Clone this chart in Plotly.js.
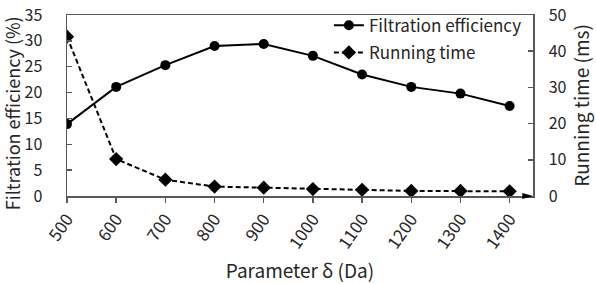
<!DOCTYPE html>
<html>
<head>
<meta charset="utf-8">
<script src="https://cdn.plot.ly/plotly-3.0.1.min.js"></script>
<style>html,body{margin:0;padding:0;background:#fff;}#chart{width:596px;height:284px;}</style>
</head>
<body>
<div id="chart"></div>
<script>
var deltaValues = [500, 600, 700, 800, 900, 1000, 1100, 1200, 1300, 1400];
var filtrationEfficiency = [13.9, 21.1, 25.3, 29.0, 29.4, 27.1, 23.5, 21.1, 19.8, 17.4];
var runningTime = [44.0, 10.2, 4.5, 2.6, 2.3, 1.9, 1.7, 1.4, 1.4, 1.3];
var tickLabels = ['500','600','700','800','900','1000','1100','1200','1300','1400'];
var leftTicks = [0, 5, 10, 15, 20, 25, 30, 35];
var rightTicks = [0, 10, 20, 30, 40, 50];

var FONT = '"Noto Sans CJK SC", "Noto Sans", sans-serif';
var AX = '#595959';
var TXT = '#262626';

var traces = [
  {
    x: deltaValues, y: filtrationEfficiency, name: 'Filtration efficiency',
    type: 'scatter', mode: 'lines+markers', legendgroup: 'a',
    line: {color: '#000', width: 2},
    marker: {symbol: 'circle', size: 10, color: '#000'}
  },
  {
    x: deltaValues, y: runningTime, name: 'Running time', yaxis: 'y2',
    type: 'scatter', mode: 'lines+markers', legendgroup: 'b',
    line: {color: '#000', width: 2, dash: '5px,3px'},
    marker: {symbol: 'diamond', size: 11, color: '#000'}
  }
];

var PLOT_W = 596 - 67 - 63;
var PLOT_H = 284 - 8 - 88;

var layout = {
  width: 596, height: 284,
  margin: {l: 67, r: 63, t: 8, b: 88, pad: 0},
  paper_bgcolor: '#fff', plot_bgcolor: '#fff',
  font: {family: FONT, size: 16, color: TXT},
  showlegend: true,
  legend: {x: 0.562, y: 1.04, xanchor: 'left', yanchor: 'top', bgcolor: 'rgba(0,0,0,0)',
           font: {family: FONT, size: 17, color: TXT}, tracegroupgap: 2, itemwidth: 30},
  xaxis: {
    range: [500, 1447.5], tickvals: deltaValues, ticktext: tickLabels,
    tickangle: -55, ticks: 'outside', ticklen: 5, tickcolor: AX, tickwidth: 1.5,
    tickfont: {family: FONT, size: 17, color: TXT},
    showline: true, linecolor: AX, linewidth: 1.5, mirror: true,
    showgrid: false, zeroline: false,
    title: {text: 'Parameter δ (Da)', font: {family: FONT, size: 19, color: TXT}, standoff: 12}
  },
  yaxis: {
    range: [0, 35], tickvals: leftTicks, ticks: 'inside', ticklen: 5, tickcolor: AX, tickwidth: 1.5,
    tickfont: {family: FONT, size: 16, color: TXT}, ticklabeloverflow: 'allow', ticklabelstandoff: 20,
    showline: true, linecolor: AX, linewidth: 1.5,
    showgrid: false, zeroline: false
  },
  yaxis2: {
    range: [0, 50], tickvals: rightTicks, overlaying: 'y', side: 'right',
    ticks: 'inside', ticklen: 5, tickcolor: AX, tickwidth: 1.5,
    tickfont: {family: FONT, size: 16, color: TXT}, ticklabeloverflow: 'allow', ticklabelstandoff: 11,
    showline: true, linecolor: AX, linewidth: 1.5,
    showgrid: false, zeroline: false,
    title: {text: 'Running time (ms)', font: {family: FONT, size: 19, color: TXT}, standoff: 7}
  },
  annotations: [
    {text: 'Filtration efficiency (%)', textangle: -90, showarrow: false,
     xref: 'paper', yref: 'paper', x: -70 / PLOT_W, y: (196 - 110) / PLOT_H,
     xanchor: 'left', yanchor: 'middle',
     font: {family: FONT, size: 18, color: TXT}}
  ],
  shapes: [
    {type: 'path', xref: 'paper', yref: 'paper',
     path: 'M 0.977 0.016 L 1.0 0 L 0.977 -0.016 Z',
     fillcolor: '#000', line: {width: 0}}
  ]
};

Plotly.newPlot('chart', traces, layout, {displayModeBar: false, staticPlot: true});
</script>
</body>
</html>
